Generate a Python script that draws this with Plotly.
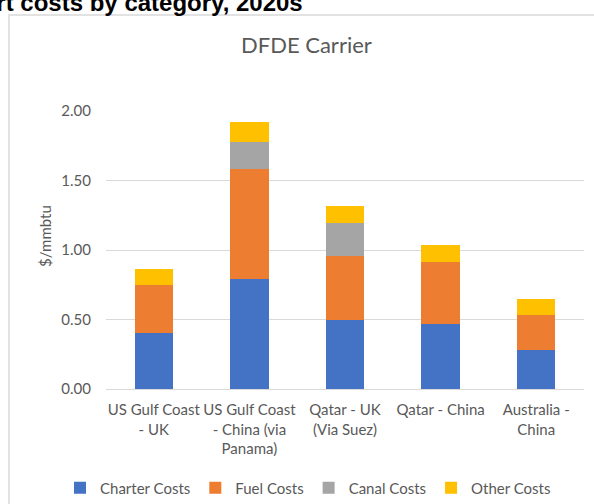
import plotly.graph_objects as go

# Routes and per-category shipping costs ($/mmbtu)
routes = [
    "US Gulf Coast<br>- UK",
    "US Gulf Coast<br>- China (via<br>Panama)",
    "Qatar - UK<br>(Via Suez)",
    "Qatar - China",
    "Australia -<br>China",
]
charter_costs = [0.40, 0.79, 0.50, 0.47, 0.28]
fuel_costs = [0.345, 0.79, 0.455, 0.445, 0.255]
canal_costs = [None, 0.20, 0.237, None, None]
other_costs = [0.12, 0.14, 0.122, 0.12, 0.11]

series = [
    ("Charter Costs", charter_costs, "#4472C4"),
    ("Fuel Costs", fuel_costs, "#ED7D31"),
    ("Canal Costs", canal_costs, "#A5A5A5"),
    ("Other Costs", other_costs, "#FFC000"),
]

W, H = 594, 504
L, R, T, B = 106, 10, 111, 115
plot_w = W - L - R
plot_h = H - T - B


def px_x(px):
    return (px - L) / plot_w


def px_y(py):
    return (H - B - py) / plot_h


FONT = "Lato, 'Open Sans', sans-serif"
GREY_TEXT = "#595959"

fig = go.Figure()
for name, vals, color in series:
    fig.add_trace(go.Bar(
        x=routes, y=vals, name=name,
        marker=dict(color=color, line=dict(width=0)),
    ))

fig.update_layout(
    width=W, height=H,
    margin=dict(l=L, r=R, t=T, b=B, autoexpand=False),
    barmode="stack",
    bargap=0.6,
    plot_bgcolor="white",
    paper_bgcolor="white",
    font=dict(family=FONT, size=15, color=GREY_TEXT),
    showlegend=True,
    legend=dict(
        orientation="h",
        x=px_x(60), xanchor="left",
        y=px_y(488), yanchor="middle",
        font=dict(family=FONT, size=15, color=GREY_TEXT),
        itemwidth=30,
        traceorder="normal",
        bgcolor="rgba(0,0,0,0)",
    ),
    yaxis=dict(
        range=[0, 2.0],
        tickvals=[0, 0.5, 1.0, 1.5, 2.0],
        tickformat=".2f",
        showgrid=True, gridcolor="#D9D9D9", gridwidth=1,
        zeroline=True, zerolinecolor="#D9D9D9", zerolinewidth=1,
        showline=False,
        ticks="",
        ticklabelstandoff=14,
        automargin=False,
        tickfont=dict(family=FONT, size=15, color=GREY_TEXT),
    ),
    xaxis=dict(
        showgrid=False, showline=False, ticks="",
        tickangle=0,
        ticklabelstandoff=10,
        automargin=False,
        tickfont=dict(family=FONT, size=15, color=GREY_TEXT),
    ),
)

# Chart frame
fig.add_shape(
    type="rect", xref="paper", yref="paper",
    x0=px_x(9), x1=px_x(610), y0=px_y(15), y1=px_y(520),
    line=dict(color="#D9D9D9", width=1.5), fillcolor="rgba(0,0,0,0)",
    layer="below",
)

# Page heading above the chart frame
fig.add_annotation(
    text="<b>LNG transport costs by category, 2020s</b>",
    xref="paper", yref="paper",
    x=px_x(305), y=px_y(18), xanchor="right", yanchor="bottom",
    showarrow=False,
    font=dict(family="Liberation Sans, Arial, sans-serif", size=24, color="#000000"),
)

# Chart title
fig.add_annotation(
    text="DFDE Carrier",
    xref="paper", yref="paper",
    x=px_x(306), y=px_y(45), xanchor="center", yanchor="middle",
    showarrow=False,
    font=dict(family=FONT, size=22, color=GREY_TEXT),
)

# Y-axis title
fig.add_annotation(
    text="$/mmbtu",
    xref="paper", yref="paper",
    x=px_x(45), y=px_y(236), xanchor="center", yanchor="middle",
    textangle=-90, showarrow=False,
    font=dict(family=FONT, size=15, color=GREY_TEXT),
)

fig.write_html("out.html")
